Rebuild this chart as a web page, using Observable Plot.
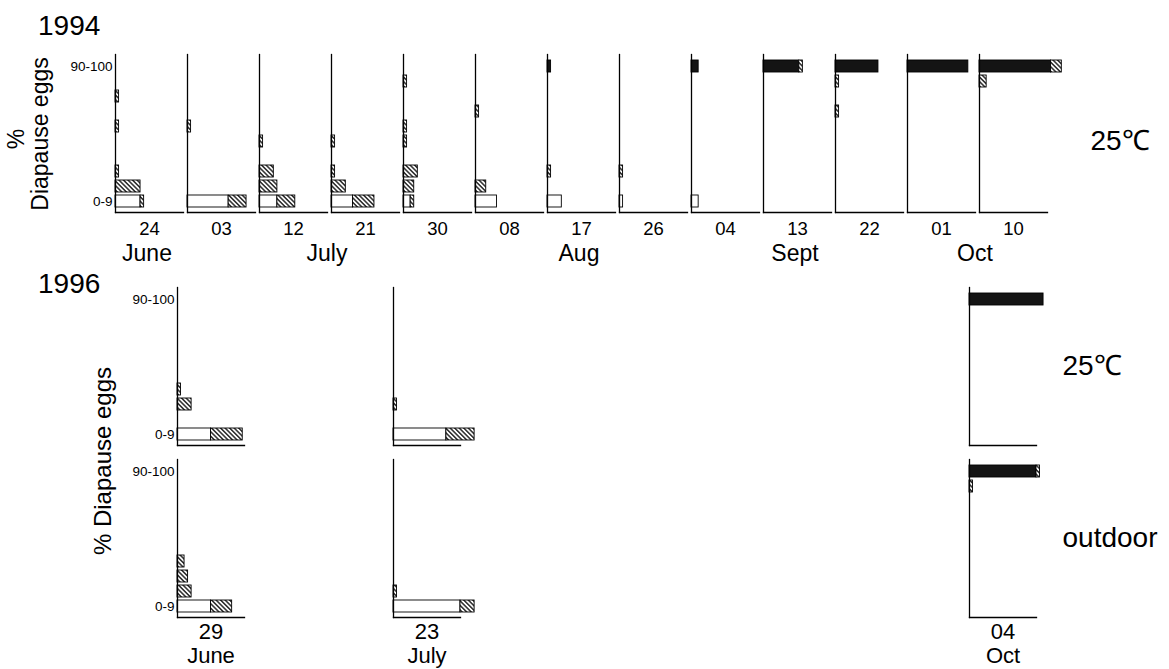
<!DOCTYPE html>
<html><head><meta charset="utf-8">
<script src="https://cdn.jsdelivr.net/npm/d3@7"></script>
<script src="https://cdn.jsdelivr.net/npm/@observablehq/plot@0.6"></script>
<style>
body{margin:0;background:#fff;font-family:"Liberation Sans",Arial,sans-serif;}
#chart{position:relative;width:1169px;height:669px;overflow:hidden;background:#fff;}
#chart svg{position:absolute;left:0;display:block;}
</style></head><body><div id="chart"></div>
<script>
// ---- data ----
const classes = ["0-9","10-19","20-29","30-39","40-49","50-59","60-69","70-79","80-89","90-100"];
const tickClasses = ["0-9","90-100"];

// 1994, 25℃ : sampling dates (every 9 days) and month of each
const dates1994 = ["24","03","12","21","30","08","17","26","04","13","22","01","10"];
const monthOf1994 = ["June","July","July","July","July","Aug","Aug","Aug","Sept","Sept","Sept","Oct","Oct"];
// [date, class, number of females]
const open1994 = [["24","0-9",7],["03","0-9",11.5],["12","0-9",5],["21","0-9",6],["30","0-9",2],
  ["08","0-9",6],["17","0-9",4],["26","0-9",1],["04","0-9",2]];
const solid1994 = [["17","90-100",1],["04","90-100",2],["13","90-100",10],["22","90-100",12],
  ["01","90-100",17],["10","90-100",20]];
const hatched1994 = [
  ["24","0-9",1],["24","10-19",7],["24","20-29",1],["24","50-59",1],["24","70-79",1],
  ["03","0-9",5],["03","50-59",1],
  ["12","0-9",5],["12","10-19",5],["12","20-29",4],["12","40-49",1],
  ["21","0-9",6],["21","10-19",4],["21","20-29",1],["21","40-49",1],
  ["30","0-9",1],["30","10-19",3],["30","20-29",4],["30","40-49",1],["30","50-59",1],["30","80-89",1],
  ["08","10-19",3],["08","60-69",1],
  ["17","20-29",1],
  ["26","20-29",1],
  ["13","90-100",1],
  ["22","80-89",1],["22","60-69",1],
  ["10","90-100",3],["10","80-89",2]];

// 1996 : dates, conditions
const dates1996 = ["1996-06-29","1996-07-23","1996-10-04"];
const days1996 = ["29","23","04"];
const months1996 = ["June","July","Oct"];
const conditions1996 = ["25℃","outdoor"];
// [day, condition, class, number]
const open1996 = [["29","25℃","0-9",9.5],["23","25℃","0-9",15],["29","outdoor","0-9",9.5],["23","outdoor","0-9",19]];
const solid1996 = [["04","25℃","90-100",21],["04","outdoor","90-100",19]];
const hatched1996 = [
  ["29","25℃","0-9",9],["29","25℃","20-29",4],["29","25℃","30-39",1],
  ["23","25℃","0-9",8],["23","25℃","20-29",1],
  ["29","outdoor","0-9",6],["29","outdoor","10-19",4],["29","outdoor","20-29",3],["29","outdoor","30-39",2],
  ["23","outdoor","0-9",4],["23","outdoor","10-19",1],
  ["04","outdoor","90-100",1],["04","outdoor","80-89",1]];

// ---- helpers ----
const FONT = '"Liberation Sans", Arial, sans-serif';
const chart = document.getElementById("chart");
const yDomain = classes.slice().reverse();

function addHatch(svg, id) {
  d3.select(svg).insert("defs", ":first-child").html(
    `<pattern id="${id}" patternUnits="userSpaceOnUse" width="3.2" height="3.2" patternTransform="rotate(-45)">
       <rect width="3.2" height="3.2" fill="white"/>
       <line x1="1.6" y1="-1" x2="1.6" y2="4.2" stroke="black" stroke-width="1.25"/>
     </pattern>`);
}
function fillFor(hid) {
  return d => d.kind === "open" ? "white" : d.kind === "solid" ? "#141414" : `url(#${hid})`;
}
function addText(svg, x, y, txt, size, opts = {}) {
  const t = d3.select(svg).append("text")
    .attr("font-family", FONT).attr("font-size", size).attr("fill", "black")
    .attr("text-anchor", opts.anchor || "start").text(txt);
  if (opts.rotate) t.attr("transform", `translate(${x},${y}) rotate(-90)`);
  else t.attr("x", x).attr("y", y);
  return t;
}

// ---- 1994 ----
const rows94 = [
  ...open1994.map(([date, cls, n]) => ({date, cls, n, kind: "open"})),
  ...solid1994.map(([date, cls, n]) => ({date, cls, n, kind: "solid"})),
  ...hatched1994.map(([date, cls, n]) => ({date, cls, n, kind: "hatched"}))
];
const plot94 = Plot.plot({
  width: 1169, height: 270,
  marginLeft: 115, marginRight: 122, marginTop: 54, marginBottom: 58,
  style: {fontFamily: FONT, background: "white", color: "black", overflow: "visible"},
  facet: {marginTop: 0, marginRight: 0, marginBottom: 0, marginLeft: 0},
  fx: {domain: dates1994, paddingInner: 0.056, paddingOuter: 0, axis: null},
  fy: {domain: ["25℃"], padding: 0, axis: null},
  x: {domain: [0, 19], axis: null},
  y: {domain: yDomain, padding: 0.2, axis: null},
  color: {type: "identity"},
  marks: [
    Plot.barX(rows94, {x: "n", y: "cls", fx: "date", fy: () => "25℃", fill: fillFor("h94"), stroke: "black", strokeWidth: 0.9}),
    Plot.frame({anchor: "left", stroke: "black", strokeWidth: 1.3}),
    Plot.frame({anchor: "bottom", stroke: "black", strokeWidth: 1.3}),
    Plot.text(tickClasses, {fx: () => dates1994[0], fy: () => "25℃", y: d => d, text: d => d,
      frameAnchor: "left", textAnchor: "end", dx: -3, fontSize: 13.5}),
    Plot.axisFy({anchor: "right", tickSize: 0, tickPadding: 43, fontSize: 28, label: null, dy: 8}),
    Plot.text(dates1994, {fx: d => d, fy: () => "25℃", text: d => d, frameAnchor: "bottom",
      lineAnchor: "middle", dy: 17, fontSize: 18.5})
  ]
});
addHatch(plot94, "h94");
plot94.style.top = "0px";
chart.appendChild(plot94);
{
  const fx = plot94.scale("fx");
  const bw = fx.bandwidth;
  const monthNames = Array.from(new Set(monthOf1994));
  for (const m of monthNames) {
    const centers = dates1994.filter((d, i) => monthOf1994[i] === m).map(d => fx.apply(d) + bw / 2);
    addText(plot94, d3.mean(centers) - 2, 261, m, 23, {anchor: "middle"});
  }
  addText(plot94, 38, 35, "1994", 28);
  addText(plot94, 24, 139, "%", 23, {rotate: true, anchor: "middle"});
  addText(plot94, 48, 134, "Diapause eggs", 23, {rotate: true, anchor: "middle"});
}

// ---- 1996 ----
const t0 = new Date(dates1996[0]);
const slotOf = new Map(days1996.map((d, i) => [d, Math.round(d3.timeDay.count(t0, new Date(dates1996[i])) / 9)]));
const rows96 = [
  ...open1996.map(([day, cond, cls, n]) => ({day, cond, cls, n, kind: "open"})),
  ...solid1996.map(([day, cond, cls, n]) => ({day, cond, cls, n, kind: "solid"})),
  ...hatched1996.map(([day, cond, cls, n]) => ({day, cond, cls, n, kind: "hatched"}))
];
const labels96 = days1996.map((d, i) => ({day: d, month: months1996[i]}));
const ticks96 = conditions1996.flatMap(cond => tickClasses.map(cls => ({cond, cls})));
const nSlots = d3.max(slotOf.values()) + 1;
const plot96 = Plot.plot({
  width: 1169, height: 399,
  marginLeft: 171, marginRight: 127, marginTop: 17, marginBottom: 51,
  style: {fontFamily: FONT, background: "white", color: "black", overflow: "visible"},
  facet: {marginTop: 0, marginRight: 0, marginBottom: 0, marginLeft: 0},
  fx: {domain: d3.range(nSlots), paddingInner: 0.068, paddingOuter: 0, axis: null},
  fy: {domain: conditions1996, paddingInner: 0.08, paddingOuter: 0, axis: null},
  x: {domain: [0, 19], axis: null},
  y: {domain: yDomain, padding: 0.2, axis: null},
  color: {type: "identity"},
  marks: [
    Plot.barX(rows96, {x: "n", y: "cls", fx: d => slotOf.get(d.day), fy: "cond", fill: fillFor("h96"), stroke: "black", strokeWidth: 0.9}),
    Plot.frame({anchor: "left", stroke: "black", strokeWidth: 1.3}),
    Plot.frame({anchor: "bottom", stroke: "black", strokeWidth: 1.3}),
    Plot.text(ticks96, {fx: () => 0, fy: "cond", y: "cls", text: "cls",
      frameAnchor: "left", textAnchor: "end", dx: -3, fontSize: 13.5}),
    Plot.axisFy({anchor: "right", tickSize: 0, tickPadding: 26, fontSize: 28, label: null}),
    Plot.text(labels96, {fx: d => slotOf.get(d.day), fy: () => "outdoor", text: d => `${d.day}\n${d.month}`,
      frameAnchor: "bottom", lineAnchor: "middle", dy: 26, fontSize: 22, lineHeight: 1.1})
  ]
});
addHatch(plot96, "h96");
plot96.style.top = "270px";
chart.appendChild(plot96);
addText(plot96, 38, 23, "1996", 28);
addText(plot96, 111, 191, "% Diapause eggs", 24, {rotate: true, anchor: "middle"});
</script>
</body></html>
